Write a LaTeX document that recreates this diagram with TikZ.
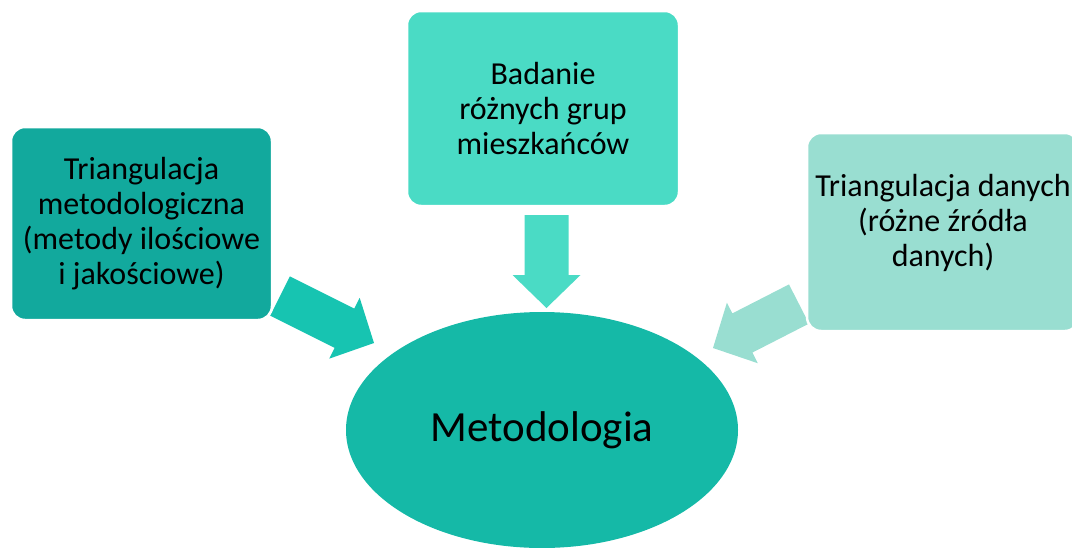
\documentclass[tikz,border=0pt]{standalone}
\usepackage{fontspec}
\setmainfont{Carlito}
\usetikzlibrary{calc, shapes.geometric}

\definecolor{boxleft}{HTML}{12A99D}
\definecolor{arrowleft}{HTML}{17C4B1}
\definecolor{boxtop}{HTML}{4ADBC5}
\definecolor{boxright}{HTML}{99DED1}
\definecolor{centre}{HTML}{15B9A7}

% block arrow: style, back, tip
\newcommand\blockarrow[3]{%
  \coordinate (h) at ($(#3)!33pt!(#2)$);
  \fill[#1] ($(#2)!22pt!90:(#3)$) -- ($(h)!22pt!-90:(#2)$) -- ($(h)!34pt!-90:(#2)$) -- (#3)
    -- ($(h)!34pt!90:(#2)$) -- ($(h)!22pt!90:(#2)$) -- ($(#2)!22pt!-90:(#3)$) -- cycle;
}

\begin{document}
\begin{tikzpicture}[x=1pt, y=-1pt,
  box/.style={rectangle, rounded corners=14pt, draw=white, line width=2.5pt,
    align=center, inner sep=0pt, font=\fontsize{32}{35}\selectfont}]
\useasboundingbox (0,0) rectangle (1072,547);

% Centre ellipse
\node[ellipse, fill=centre, minimum width=392pt, minimum height=236pt, inner sep=0pt,
  font=\fontsize{43}{50}\selectfont] (meth) at (542,430) {Metodologia};

% Arrow ends
\coordinate (lback) at (280,296);
\coordinate (ltip) at (374,343);
\coordinate (tback) at (546.5,215);
\coordinate (ttip) at (546.5,308);
\coordinate (rback) at (799,304);
\coordinate (rtip) at (713,348);

% Block arrows
\blockarrow{arrowleft}{lback}{ltip}
\blockarrow{boxtop}{tback}{ttip}
\blockarrow{boxright}{rback}{rtip}

% Boxes
\node[box, fill=boxleft, minimum width=261pt, minimum height=193pt] (trimet) at (141.5,223.5)
  {Triangulacja\\metodologiczna\\(metody ilościowe\\i jakościowe)};
\node[box, fill=boxtop, minimum width=272pt, minimum height=195pt] (groups) at (543,108.5)
  {Badanie\\różnych grup\\mieszkańców};
\node[box, fill=boxright, minimum width=272pt, minimum height=198pt, text depth=23pt] (tridata) at (943,232)
  {Triangulacja danych\\(różne źródła\\danych)};
\end{tikzpicture}
\end{document}
